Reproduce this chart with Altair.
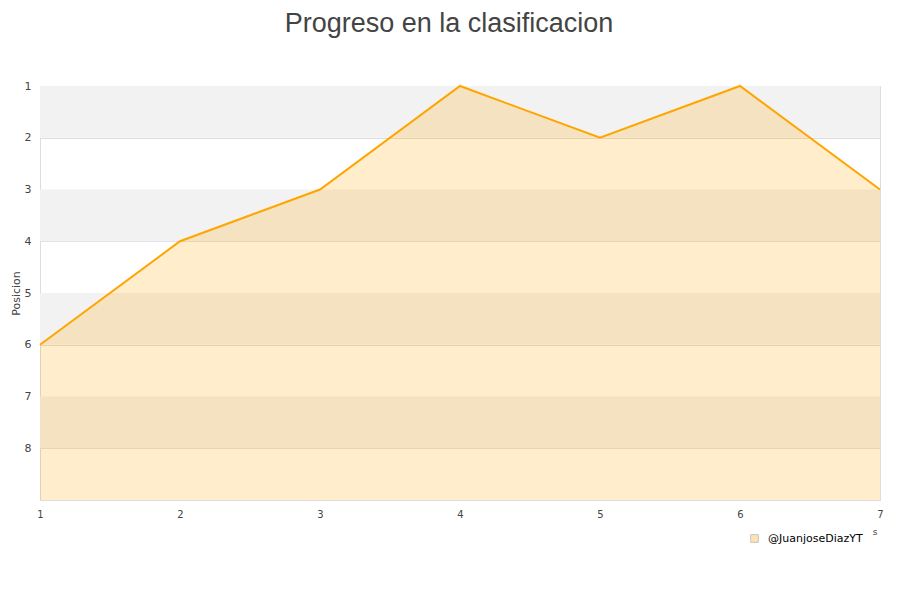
import altair as alt
import pandas as pd

jornadas = [1, 2, 3, 4, 5, 6, 7]
posiciones = [6, 4, 3, 1, 2, 1, 3]
serie = "@JuanjoseDiazYT"
band_starts = [1, 3, 5, 7]
y_ticks = [1, 2, 3, 4, 5, 6, 7, 8]

df = pd.DataFrame({"Jornada": jornadas, "Posicion": posiciones, "serie": [serie] * len(jornadas), "base": [9] * len(jornadas)})
bands = pd.DataFrame({"y0": band_starts, "y1": [b + 1 for b in band_starts]})

xscale = alt.Scale(domain=[1, 7], nice=False, zero=False)
yscale = alt.Scale(domain=[1, 9], reverse=True, nice=False, zero=False)

band_layer = alt.Chart(bands).mark_rect(color="#f2f2f2").encode(
    y=alt.Y("y0:Q", scale=yscale,
            axis=alt.Axis(values=y_ticks, title="Posicion", grid=True, gridColor="#dddddd",
                          ticks=False, domain=False, labelPadding=9, labelFontSize=11,
                          labelColor="#444444", labelFont="DejaVu Sans", titleFont="DejaVu Sans",
                          titleFontSize=11, titleFontWeight="normal", titleColor="#444444",
                          titlePadding=3, labelFlush=False)),
    y2="y1:Q",
    x=alt.value(0),
    x2=alt.value(840),
)

area_layer = alt.Chart(df).mark_area(opacity=0.2, line=False).encode(
    x=alt.X("Jornada:Q", scale=xscale,
            axis=alt.Axis(values=jornadas, title=None, grid=False, ticks=False, domain=False,
                          labelPadding=9, labelFontSize=10, labelColor="#444444",
                          labelFont="DejaVu Sans", format="d", labelFlush=False)),
    y=alt.Y("Posicion:Q", scale=yscale),
    y2="base:Q",
    color=alt.Color("serie:N", scale=alt.Scale(range=["#ffa500"]),
                    legend=alt.Legend(title=None, orient="none", legendX=709, legendY=447,
                                      symbolType="square", symbolSize=60, symbolOpacity=0.3,
                                      symbolStrokeWidth=1, symbolStrokeColor="#444444",
                                      labelOffset=8,
                                      labelFontSize=11, labelFont="DejaVu Sans", labelColor="#000000")),
)

line_layer = alt.Chart(df).mark_line(color="#ffa500", strokeWidth=2).encode(
    x=alt.X("Jornada:Q", scale=xscale),
    y=alt.Y("Posicion:Q", scale=yscale),
)

artifact = alt.Chart(pd.DataFrame({"t": ["s"]})).mark_text(
    fontSize=9, color="#444444", font="DejaVu Sans"
).encode(text="t:N", x=alt.value(835), y=alt.value(446))

chart = alt.layer(band_layer, area_layer, line_layer, artifact).properties(
    width=840,
    height=414,
    title=alt.TitleParams(text="Progreso en la clasificacion", fontSize=27, font="Liberation Sans",
                          fontWeight="normal", color="#444444", anchor="middle", offset=42, dx=-11),
    autosize=alt.AutoSizeParams(type="none"),
    padding={"left": 32, "top": 78, "right": 12, "bottom": 80},
).configure_view(stroke="#dddddd")

chart.save("out.html", embed_options={"renderer": "svg", "actions": False})
